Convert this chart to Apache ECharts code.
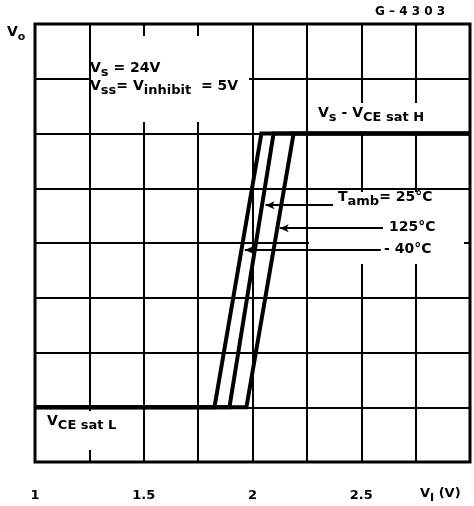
<!DOCTYPE html>
<html><head><meta charset="utf-8">
<script src="https://cdn.jsdelivr.net/npm/echarts@6/dist/echarts.min.js"></script>
<style>html,body{margin:0;padding:0;background:#fff}#c{width:474px;height:506px}</style>
</head><body><div id="c"></div>
<script>
// ---- data ----
const xTickValues = [1, 1.5, 2, 2.5];
const xTickLabels = ['1', '1.5', '2', '2.5'];
const tempNames = ['-40°C', '25°C', '125°C'];
const vOutLow = 1;          // V_CE sat L level (grid units)
const vOutHigh = 6;         // V_S - V_CE sat H level (grid units)
const vInStart = 1;
const vInEnd = 3;
const riseStartX = [1.825, 1.894, 1.972]; // V_I where output leaves low level
const riseEndX = [2.041, 2.097, 2.189];   // V_I where output reaches high level
const arrowY = [3.87, 4.69, 4.27];
const arrowFromX = [2.59, 2.37, 2.60];
const arrowToX = [1.965, 2.06, 2.125];

const FONT = "'DejaVu Sans', sans-serif";
const chart = echarts.init(document.getElementById('c'), null, {renderer: 'canvas'});

const series = tempNames.map((name, i) => ({
  name: name,
  type: 'line',
  symbol: 'none',
  z: 5,
  lineStyle: {color: '#000', width: 4, join: 'miter'},
  data: [[vInStart, vOutLow], [riseStartX[i], vOutLow], [riseEndX[i], vOutHigh], [vInEnd, vOutHigh]],
  markLine: {
    silent: true,
    symbol: ['none', 'arrow'],
    symbolSize: [6, 9],
    label: {show: false},
    lineStyle: {color: '#000', width: 2, type: 'solid'},
    data: [[{coord: [arrowFromX[i], arrowY[i]]}, {coord: [arrowToX[i], arrowY[i]]}]]
  }
}));

function rich(nSize, sSize, drop) {
  return {
    n: {fontFamily: FONT, fontSize: nSize, fontWeight: 'bold', color: '#000', verticalAlign: 'bottom', padding: [0, 0, drop, 0]},
    s: {fontFamily: FONT, fontSize: sSize, fontWeight: 'bold', color: '#000', verticalAlign: 'bottom'}
  };
}
function txt(x, y, text, r) {
  return {type: 'text', left: x, top: y, z: 10, style: {text: text, rich: r, fontFamily: FONT, fontWeight: 'bold', fontSize: 14, fill: '#000'}};
}
function box(x, y, w, h) {
  return {type: 'rect', shape: {x: x, y: y, width: w, height: h}, z: 1, style: {fill: '#fff'}, silent: true};
}

const option = {
  animation: false,
  backgroundColor: '#fff',
  grid: {left: 35, right: 4, top: 24, bottom: 44, show: true, borderColor: '#000', borderWidth: 3, backgroundColor: 'transparent'},
  xAxis: {
    type: 'value', min: 1, max: 3, interval: 0.25,
    axisLine: {show: false}, axisTick: {show: false},
    splitLine: {show: true, lineStyle: {color: '#000', width: 2}},
    axisLabel: {
      margin: 27, fontFamily: FONT, fontWeight: 'bold', fontSize: 13, color: '#000',
      formatter: v => { const k = xTickValues.indexOf(Math.round(v * 100) / 100); return k >= 0 ? xTickLabels[k] : ''; }
    }
  },
  yAxis: {
    type: 'value', min: 0, max: 8, interval: 1,
    axisLine: {show: false}, axisTick: {show: false}, axisLabel: {show: false},
    splitLine: {show: true, lineStyle: {color: '#000', width: 2}}
  },
  series: series,
  graphic: [
    box(91, 36, 158, 86),
    box(309, 103, 158, 30),
    box(309, 192, 155, 72),
    box(38, 411, 101, 39),
    txt(375, 6, '{n|G – 4 3 0 3}', rich(12, 12, 0)),
    txt(7, 25, '{n|V}{s|o}', rich(14, 11, 4)),
    txt(90, 61, '{n|V}{s|s}{n| = 24V}', rich(14, 13, 4)),
    txt(90, 79, '{n|V}{s|ss}{n|= V}{s|inhibit}{n|  = 5V}', rich(14, 13, 4)),
    txt(318, 106, '{n|V}{s|s}{n| - V}{s|CE sat H}', rich(14, 13, 4)),
    txt(47, 414, '{n|V}{s|CE sat L}', rich(14, 13, 4)),
    txt(338, 190, '{n|T}{s|amb}{n|= 25°C}', rich(14, 13, 4)),
    txt(389, 220, '{n|125°C}', rich(14, 13, 0)),
    txt(384, 242, '{n|- 40°C}', rich(14, 13, 0)),
    txt(420, 487, '{n|V}{s|I}{n| (V)}', rich(13, 11, 4))
  ]
};
chart.setOption(option);
</script>
</body></html>
